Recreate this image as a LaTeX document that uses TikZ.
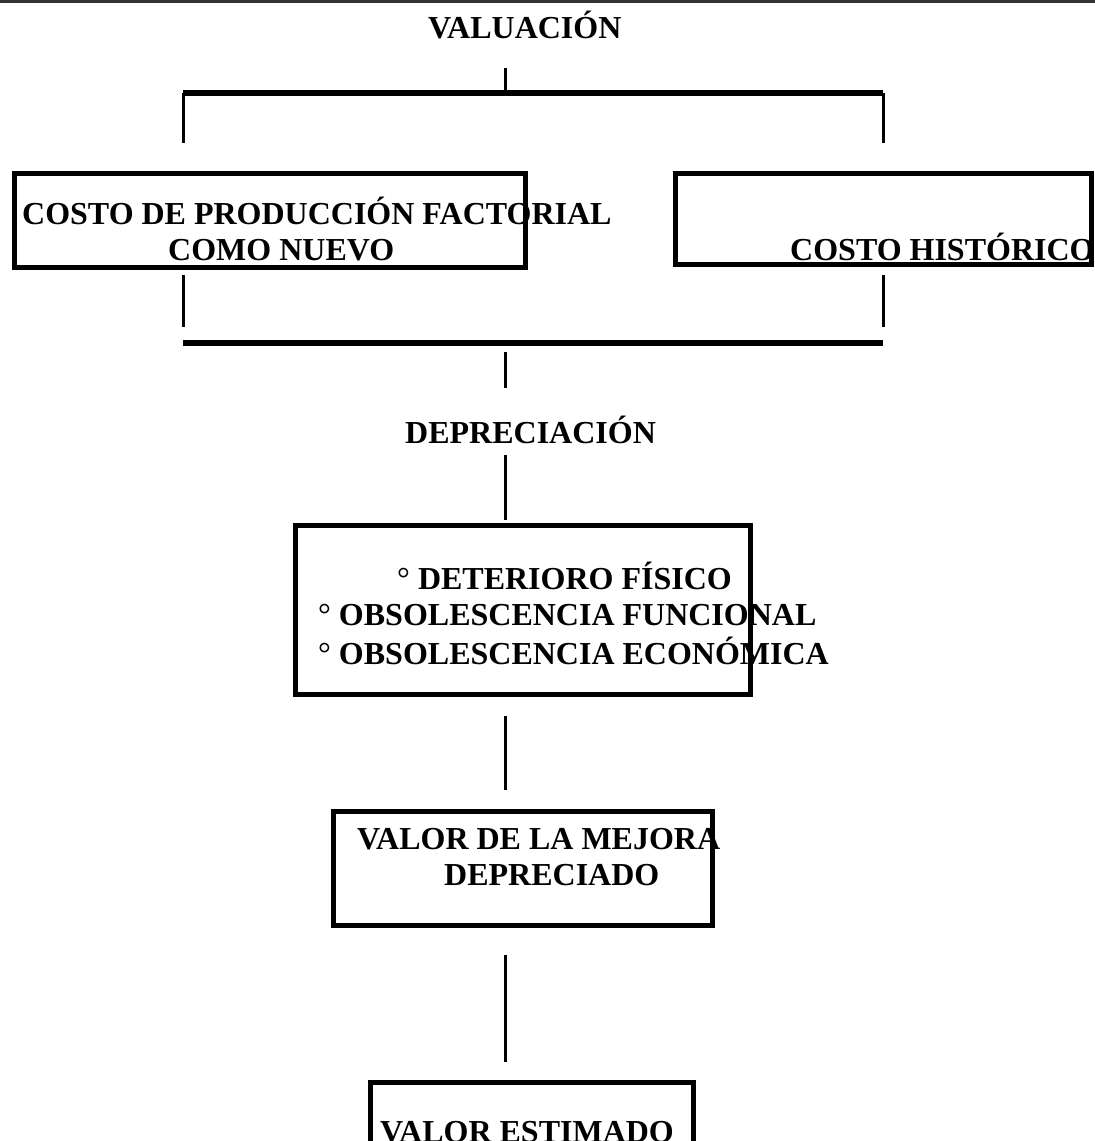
\documentclass[tikz,border=0pt]{standalone}
\usepackage{fontspec}
\setmainfont{Liberation Serif}
\begin{document}
\begin{tikzpicture}[x=1pt,y=-1pt,
  lbl/.style={font=\fontsize{32}{37}\selectfont\bfseries,inner sep=0pt,anchor=base west},
  boxframe/.style={draw,line width=5pt,inner sep=0pt},
  conn/.style={line width=3pt},
  bar/.style={line width=6pt}]
\useasboundingbox (0,0) rectangle (1095,1141);
\fill[white] (0,0) rectangle (1095,1141);
\coordinate (tl) at (0,1.5); \coordinate (tr) at (1095,1.5);
\draw[line width=3pt,black!80] (tl) -- (tr);
% Title
\node[lbl] (val) at (428,38) {VALUACIÓN};
\coordinate (v1a) at (505,68); \coordinate (v1b) at (505,93);
\draw[conn] (v1a) -- (v1b);
\coordinate (b1l) at (183,93); \coordinate (b1r) at (883,93);
\draw[bar] (b1l) -- (b1r);
\coordinate (l1b) at (183,143); \coordinate (r1b) at (883,143);
\draw[conn] (b1l) -- (l1b);
\draw[conn] (b1r) -- (r1b);
% Boxes row
\node[boxframe,minimum width=511pt,minimum height=94pt] (boxA) at (269.5,220) {};
\node[boxframe,minimum width=416pt,minimum height=91pt] (boxB) at (883,218.5) {};
\node[lbl] (tA1) at (22,224) {COSTO DE PRODUCCIÓN FACTORIAL};
\node[lbl] (tA2) at (168,260) {COMO NUEVO};
\node[lbl] (tB1) at (790,260) {COSTO HISTÓRICO};
% Lower connectors
\coordinate (l2a) at (183,275); \coordinate (l2b) at (183,327);
\coordinate (r2a) at (883,275); \coordinate (r2b) at (883,327);
\draw[conn] (l2a) -- (l2b);
\draw[conn] (r2a) -- (r2b);
\coordinate (b2l) at (183,343); \coordinate (b2r) at (883,343);
\draw[bar] (b2l) -- (b2r);
\coordinate (v2a) at (505,352); \coordinate (v2b) at (505,388);
\draw[conn] (v2a) -- (v2b);
\node[lbl] (dep) at (405,443) {DEPRECIACIÓN};
\coordinate (v3a) at (505,455); \coordinate (v3b) at (505,520);
\draw[conn] (v3a) -- (v3b);
% Depreciation box
\node[boxframe,minimum width=455pt,minimum height=169pt] (boxC) at (522.5,609.5) {};
\node[lbl] (c1) at (397,589) {{\mdseries °} DETERIORO FÍSICO};
\node[lbl] (c2) at (318,625) {{\mdseries °} OBSOLESCENCIA FUNCIONAL};
\node[lbl] (c3) at (318,664) {{\mdseries °} OBSOLESCENCIA ECONÓMICA};
\coordinate (v4a) at (505,716); \coordinate (v4b) at (505,790);
\draw[conn] (v4a) -- (v4b);
% Valor de la mejora
\node[boxframe,minimum width=379pt,minimum height=114pt] (boxD) at (522.5,868) {};
\node[lbl] (d1) at (357,849) {VALOR DE LA MEJORA};
\node[lbl] (d2) at (444,885) {DEPRECIADO};
\coordinate (v5a) at (505,955); \coordinate (v5b) at (505,1062);
\draw[conn] (v5a) -- (v5b);
% Valor estimado
\node[boxframe,minimum width=323pt,minimum height=100pt] (boxE) at (531.5,1132) {};
\node[lbl] (e1) at (380,1142) {VALOR ESTIMADO};
\end{tikzpicture}
\end{document}
